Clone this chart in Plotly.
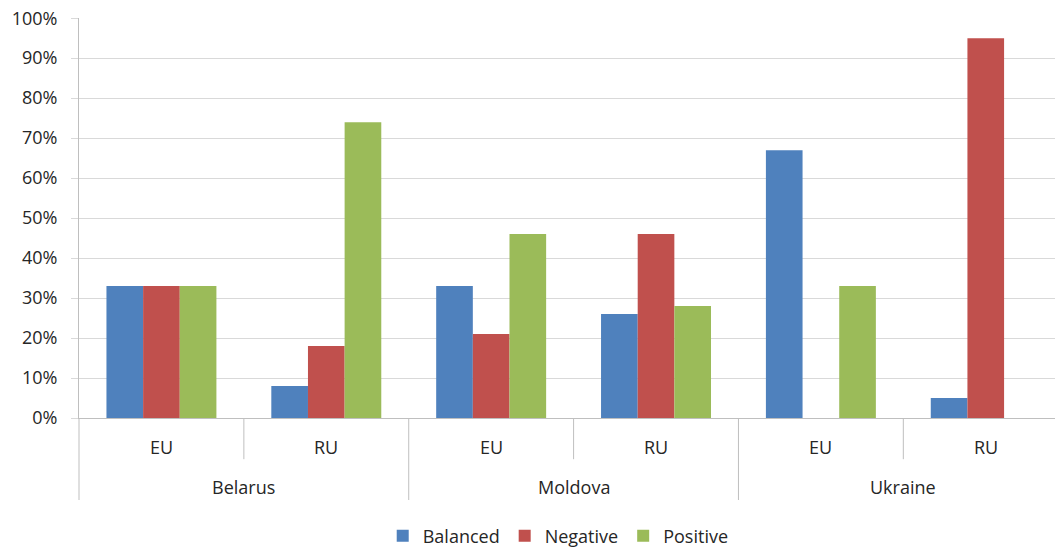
import plotly.graph_objects as go

countries = ["Belarus", "Moldova", "Ukraine"]
subcats = ["EU", "RU"]
series_names = ["Balanced", "Negative", "Positive"]
balanced = [0.33, 0.08, 0.33, 0.26, 0.67, 0.05]
negative = [0.33, 0.18, 0.21, 0.46, 0.00, 0.95]
positive = [0.33, 0.74, 0.46, 0.28, 0.33, 0.00]
colors = ["#4F81BD", "#C0504D", "#9BBB59"]
yticks = [i / 10 for i in range(11)]

n = len(countries) * len(subcats)
xs = list(range(n))
sub_labels = [s for c in countries for s in subcats]

fig = go.Figure()
for name, vals, col in zip(series_names, [balanced, negative, positive], colors):
    fig.add_trace(go.Bar(x=xs, y=vals, name=name, marker_color=col, marker_line_width=0))

font_family = "Open Sans"
txt = "#262626"
axcol = "#BFBFBF"
grid = "#D9D9D9"
fs = 18

shapes = []
shapes.append(dict(type="line", xref="paper", yref="paper", x0=0, x1=0, y0=0, y1=-0.205,
                   line=dict(color=axcol, width=1)))
for i in range(1, n):
    y1 = -0.205 if i % len(subcats) == 0 else -0.103
    shapes.append(dict(type="line", xref="x", yref="paper", x0=i - 0.5, x1=i - 0.5, y0=0, y1=y1,
                       line=dict(color=axcol, width=1)))

annotations = []
for i, lab in enumerate(sub_labels):
    annotations.append(dict(x=i, y=-0.072, xref="x", yref="paper", text=lab, showarrow=False,
                            font=dict(family=font_family, size=fs, color=txt), yanchor="middle"))
for j, c in enumerate(countries):
    cx = j * len(subcats) + (len(subcats) - 1) / 2
    annotations.append(dict(x=cx, y=-0.172, xref="x", yref="paper", text=c, showarrow=False,
                            font=dict(family=font_family, size=fs, color=txt), yanchor="middle"))

fig.update_layout(
    width=1055, height=580,
    margin=dict(l=79, r=0, t=18, b=162),
    paper_bgcolor="white", plot_bgcolor="white",
    barmode="group", bargap=0.333, bargroupgap=0,
    font=dict(family=font_family, size=fs, color=txt),
    xaxis=dict(range=[-0.5, 5.42], showticklabels=False, showgrid=False, zeroline=False,
               showline=True, linecolor=axcol, linewidth=1, ticks=""),
    yaxis=dict(range=[0, 1.0005], tickvals=yticks, tickformat=".0%", showgrid=True,
               gridcolor=grid, gridwidth=1, zeroline=False, showline=True, linecolor=axcol,
               linewidth=1, ticks="outside", ticklen=7, tickcolor=grid, ticklabelstandoff=10,
               tickfont=dict(family=font_family, size=fs, color=txt)),
    legend=dict(orientation="h", x=0.491, xanchor="center", y=-0.295, yanchor="middle",
                font=dict(family=font_family, size=fs, color=txt), itemwidth=30,
                traceorder="normal"),
    shapes=shapes,
    annotations=annotations,
)

post = (
    "document.body.style.margin='0';"
    "document.body.style.overflow='hidden';"
)

fig.write_html("out.html", config={"displayModeBar": False}, post_script=post)
